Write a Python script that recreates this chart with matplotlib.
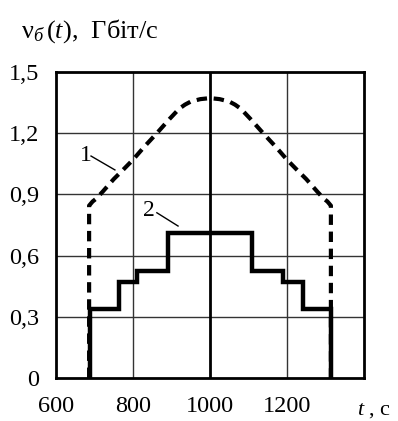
import numpy as np
import matplotlib
matplotlib.use("Agg")
import matplotlib.pyplot as plt

plt.rcParams['font.family'] = ['Liberation Serif', 'DejaVu Serif']
plt.rcParams['mathtext.fontset'] = 'custom'
plt.rcParams['mathtext.rm'] = 'Liberation Serif'
plt.rcParams['mathtext.it'] = 'Liberation Serif:italic'

# curve 1 (dashed)
t1 = [686, 686, 695, 705, 722, 750, 774, 800, 830, 862, 895, 920, 935, 950, 975, 1000,
      1025, 1050, 1065, 1080, 1105, 1138, 1170, 1200, 1226, 1250, 1278, 1295, 1305, 1314, 1314]
v1 = [0.0, 0.845, 0.865, 0.88, 0.915, 0.975, 1.02, 1.07, 1.135, 1.20, 1.27, 1.32, 1.34, 1.355, 1.367, 1.372,
      1.367, 1.355, 1.34, 1.32, 1.27, 1.20, 1.135, 1.07, 1.02, 0.975, 0.915, 0.88, 0.865, 0.845, 0.0]

# curve 2 (steps)
edges2 = [688, 764, 810, 891, 1109, 1190, 1241, 1314]
levels2 = [0.34, 0.47, 0.525, 0.71, 0.525, 0.47, 0.34]

xticks = [600, 800, 1000, 1200]
yticks = [0, 0.3, 0.6, 0.9, 1.2, 1.5]
ytick_labels = ['0', '0,3', '0,6', '0,9', '1,2', '1,5']

fig = plt.figure(figsize=(3.98, 4.21), dpi=100)
ax = fig.add_axes([56/398, 43/421, 308/398, 306/421])

# grid
for y in [0.3, 0.6, 0.9, 1.2]:
    ax.axhline(y, color='#333333', lw=1.0, zorder=1)
for x in [800, 1200]:
    ax.axvline(x, color='#333333', lw=1.0, zorder=1)
ax.axvline(1000, color='black', lw=2.0, zorder=1)

ax.plot(t1, v1, color='black', lw=3, linestyle=(0, (2.5, 1.6)), zorder=2)
ax.stairs(levels2, edges2, baseline=0, color='black', lw=3.2, zorder=3)

ax.set_xlim(600, 1400)
ax.set_ylim(0, 1.5)
ax.set_xticks(xticks)
ax.set_yticks(yticks)
ax.set_yticklabels(ytick_labels)
ax.tick_params(length=0, labelsize=17.5, pad=12)
ax.tick_params(axis='x', pad=13)
for s in ax.spines.values():
    s.set_linewidth(2)

# curve labels
ax.text(678, 1.09, '1', fontsize=17, ha='center', va='center')
ax.plot([691, 753], [1.088, 1.02], color='black', lw=1)
ax.text(842, 0.82, '2', fontsize=17, ha='center', va='center')
ax.plot([862, 917], [0.81, 0.745], color='black', lw=1)

fig.text(21/398, 1 - 31/421, r'$\mathrm{ν}_{б}\,(t)$,  Гбіт/с', fontsize=19,
         ha='left', va='center')
fig.text(357/398, 1 - 410/421, r'$t$ , с', fontsize=16, ha='left', va='center')

fig.savefig('out.png', dpi=100)
